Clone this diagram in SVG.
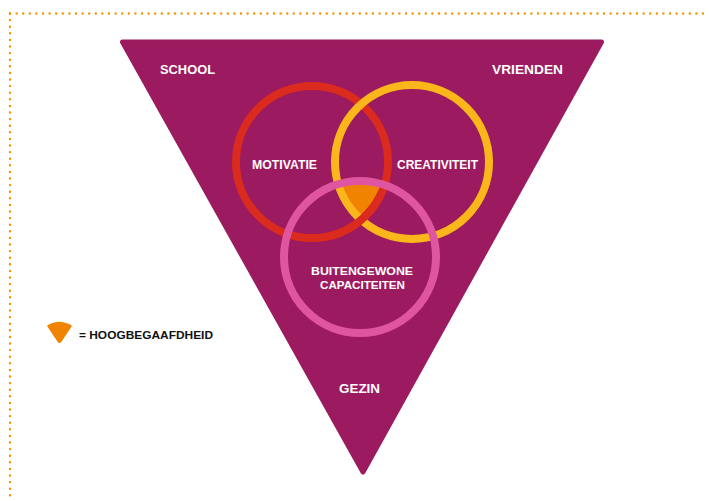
<svg xmlns="http://www.w3.org/2000/svg" width="709" height="501" viewBox="0 0 709 501">
  <style>
    .dots{fill:none;stroke:#f39200;stroke-width:2.4;stroke-linecap:round;stroke-dasharray:0 6.6}
    .lbl{font-family:"Liberation Sans","DejaVu Sans",sans-serif;font-weight:bold;font-size:13px;fill:#ffffff;text-anchor:middle}
    .sm{font-size:11.5px}
    .ring{fill:none;stroke-width:8}
    .legend{font-family:"Liberation Sans","DejaVu Sans",sans-serif;font-weight:bold;font-size:11px;fill:#111111}
  </style>
  <defs>
    <clipPath id="cRed"><circle cx="312" cy="162" r="76"/></clipPath>
    <clipPath id="cYel"><circle cx="412" cy="162" r="77"/></clipPath>
    <clipPath id="cBot"><rect x="330" y="190" width="60" height="50"/></clipPath>
  </defs>
  <rect width="709" height="501" fill="#ffffff"/>
  <g id="border">
    <path class="dots" d="M10,13.5 H709"/>
    <path class="dots" d="M10,13.5 V501"/>
  </g>
  <g id="triangle">
    <polygon points="122.5,42 601.5,42 363,472" fill="#9c1a5f" stroke="#9c1a5f" stroke-width="5" stroke-linejoin="round"/>
    <text class="lbl" x="187.5" y="74" textLength="55" lengthAdjust="spacingAndGlyphs">SCHOOL</text>
    <text class="lbl" x="527.5" y="74" textLength="71" lengthAdjust="spacingAndGlyphs">VRIENDEN</text>
    <text class="lbl" x="359.5" y="393" textLength="41" lengthAdjust="spacingAndGlyphs">GEZIN</text>
  </g>
  <g id="highlight">
    <g clip-path="url(#cRed)">
      <circle cx="360" cy="257" r="76" fill="#f08300" clip-path="url(#cYel)"/>
    </g>
  </g>
  <g id="motivatie">
    <circle class="ring" cx="312" cy="162" r="76" stroke="#db2a1e"/>
    <text class="lbl" x="284.5" y="169" textLength="65" lengthAdjust="spacingAndGlyphs">MOTIVATIE</text>
  </g>
  <g id="creativiteit">
    <circle class="ring" cx="412" cy="162" r="77" stroke="#fbb61b"/>
    <text class="lbl" x="437.5" y="169" textLength="81" lengthAdjust="spacingAndGlyphs">CREATIVITEIT</text>
  </g>
  <g id="red-over">
    <circle class="ring" cx="312" cy="162" r="76" stroke="#db2a1e" clip-path="url(#cBot)"/>
  </g>
  <g id="capaciteiten">
    <circle class="ring" cx="360" cy="257" r="76" stroke="#e0559f"/>
    <text class="lbl sm" x="362" y="275" textLength="102" lengthAdjust="spacingAndGlyphs">BUITENGEWONE</text>
    <text class="lbl sm" x="362.5" y="288.5" textLength="85" lengthAdjust="spacingAndGlyphs">CAPACITEITEN</text>
  </g>
  <g id="legend">
    <path d="M48,326 Q59,319 71,326 L61,341 Q59.5,343.5 58,341 Z" fill="#f08300" stroke="#f08300" stroke-width="1.5" stroke-linejoin="round"/>
    <text class="legend" x="79" y="339" textLength="134" lengthAdjust="spacingAndGlyphs">= HOOGBEGAAFDHEID</text>
  </g>
</svg>
